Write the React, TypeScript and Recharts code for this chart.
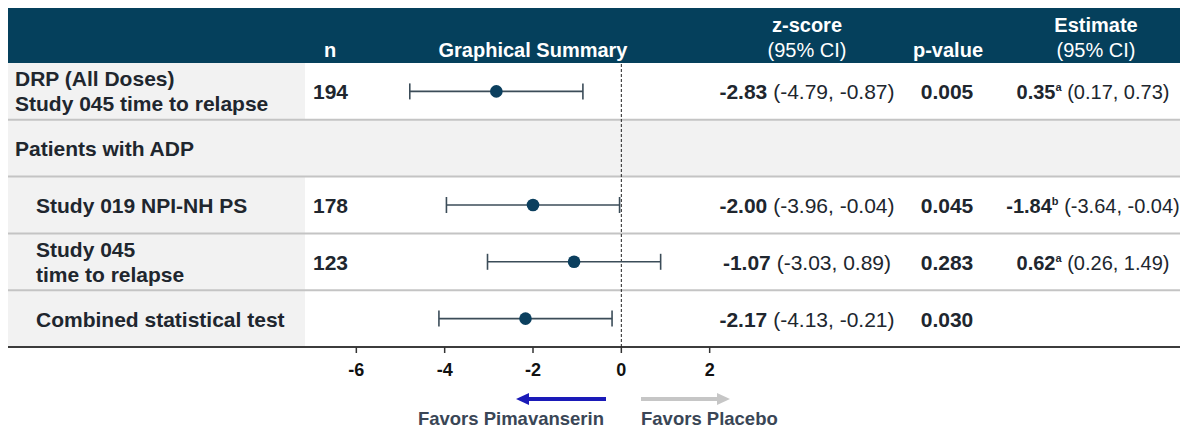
import { ComposedChart, ErrorBar, ReferenceLine, Scatter, XAxis, YAxis } from 'recharts';

// table rows, top to bottom
const rowLabels: string[][] = [
  ['DRP (All Doses)', 'Study 045 time to relapse'],
  ['Patients with ADP'],
  ['Study 019 NPI-NH PS'],
  ['Study 045', 'time to relapse'],
  ['Combined statistical test'],
];
const indented = [false, false, true, true, true];
const sectionRow = [false, true, false, false, false];
const nValues = [194, null, 178, 123, null];

// z-score with 95% CI
const zScores = [-2.83, null, -2.0, -1.07, -2.17];
const zLow = [-4.79, null, -3.96, -3.03, -4.13];
const zHigh = [-0.87, null, -0.04, 0.89, -0.21];
const pValues = [0.005, null, 0.045, 0.283, 0.03];

// estimate with 95% CI (a / b footnote markers)
const estimates = [0.35, null, -1.84, 0.62, null];
const estNotes = ['a', null, 'b', 'a', null];
const estLow = [0.17, null, -3.64, 0.26, null];
const estHigh = [0.73, null, -0.04, 1.49, null];

const xTicks = [-6, -4, -2, 0, 2];
const xDomain = [-8, 4];

const FONT = '"Liberation Sans", Arial, sans-serif';
const W = 1180;
const H = 422;
const TOP = 55;
const ROW_H = 56.8;
const BOTTOM = TOP + ROW_H * rowLabels.length;
const LEFT_COL = 297;
const HEADER_RIGHT = 1175;
const PLOT_LEFT = 260;
const PLOT_RIGHT = 390;
const HEADER_BG = '#05405c';
const TEXT = '#20262e';

const rowMid = (i: number) => TOP + ROW_H * (i + 0.5);
const fmt = (v: number) => v.toFixed(2);

const points = zScores.flatMap((z, i) =>
  z === null ? [] : [{ row: i + 0.5, z, ci: [z - (zLow[i] as number), (zHigh[i] as number) - z] }]
);

const TableBackdrop = () => (
  <g>
    <rect x={0} y={0} width={HEADER_RIGHT} height={TOP} fill={HEADER_BG} />
    <rect x={0} y={TOP} width={LEFT_COL} height={BOTTOM - TOP} fill="#f2f2f2" />
    {sectionRow.map((s, i) =>
      s ? <rect key={i} x={0} y={TOP + ROW_H * i} width={W} height={ROW_H} fill="#f2f2f2" /> : null
    )}
    {rowLabels.slice(1).map((_, k) => (
      <line key={k} x1={0} x2={W} y1={TOP + ROW_H * (k + 1)} y2={TOP + ROW_H * (k + 1)} stroke="#c4c4c4" strokeWidth={2} />
    ))}
    <line x1={0} x2={W} y1={BOTTOM} y2={BOTTOM} stroke="#3c3c3c" strokeWidth={2} />
  </g>
);

const HeaderText = () => (
  <g fontFamily={FONT} fontSize={20} fill="#ffffff" fontWeight="bold" textAnchor="middle">
    <text x={322} y={49}>n</text>
    <text x={525} y={49}>Graphical Summary</text>
    <text x={799} y={24}>z-score</text>
    <text x={799} y={49} fontWeight="normal">(95% CI)</text>
    <text x={940} y={49}>p-value</text>
    <text x={1088} y={24}>Estimate</text>
    <text x={1088} y={49} fontWeight="normal">(95% CI)</text>
  </g>
);

const RowText = () => (
  <g fontFamily={FONT} fontSize={21} fill={TEXT} fontWeight="bold">
    {rowLabels.map((lines, i) => {
      const x = indented[i] ? 28 : 7;
      const mid = rowMid(i);
      return lines.length === 1 ? (
        <text key={`l${i}`} x={x} y={mid + 8}>{lines[0]}</text>
      ) : (
        <g key={`l${i}`}>
          <text x={x} y={mid - 5}>{lines[0]}</text>
          <text x={x} y={mid + 20}>{lines[1]}</text>
        </g>
      );
    })}
    {nValues.map((n, i) =>
      n === null ? null : <text key={`n${i}`} x={305} y={rowMid(i) + 8}>{n}</text>
    )}
    {zScores.map((z, i) =>
      z === null ? null : (
        <text key={`z${i}`} x={799} y={rowMid(i) + 8} textAnchor="middle">
          {fmt(z)}
          <tspan fontWeight="normal">{` (${fmt(zLow[i] as number)}, ${fmt(zHigh[i] as number)})`}</tspan>
        </text>
      )
    )}
    {pValues.map((p, i) =>
      p === null ? null : (
        <text key={`p${i}`} x={939} y={rowMid(i) + 8} textAnchor="middle">{p.toFixed(3)}</text>
      )
    )}
    {estimates.map((e, i) =>
      e === null ? null : (
        <text key={`e${i}`} x={1085} y={rowMid(i) + 8} textAnchor="middle" fontSize={20}>
          {fmt(e)}
          <tspan fontSize={11} dy={-8}>{estNotes[i]}</tspan>
          <tspan dy={8} fontWeight="normal">{` (${fmt(estLow[i] as number)}, ${fmt(estHigh[i] as number)})`}</tspan>
        </text>
      )
    )}
  </g>
);

// "favors" arrows under the axis
const FavorArrows = () => (
  <g fontFamily={FONT} fontSize={18.5} fontWeight="bold" fill="#3a4656">
    <line x1={598} x2={518} y1={391} y2={391} stroke="#1a1ab8" strokeWidth={4} />
    <path d="M508 391 L521 385 L521 397 Z" fill="#1a1ab8" />
    <line x1={633} x2={710} y1={391} y2={391} stroke="#c6c6c6" strokeWidth={4} />
    <path d="M722 391 L709 385 L709 397 Z" fill="#c6c6c6" />
    <text x={596} y={417} textAnchor="end">Favors Pimavanserin</text>
    <text x={633} y={417}>Favors Placebo</text>
  </g>
);

const Dot = (props: any) => <circle cx={props.cx} cy={props.cy} r={6.3} fill="#0b3f5e" />;

export default function App() {
  return (
    <div style={{ width: W, height: H }}>
      <ComposedChart
        width={W}
        height={H}
        margin={{ top: TOP, right: PLOT_RIGHT, left: PLOT_LEFT, bottom: H - BOTTOM - 30 }}
      >
        <TableBackdrop />
        <HeaderText />
        <RowText />
        <FavorArrows />
        <XAxis
          type="number"
          dataKey="z"
          domain={xDomain}
          ticks={xTicks}
          allowDataOverflow
          height={30}
          axisLine={false}
          tickLine={{ stroke: '#333', strokeWidth: 1.5 }}
          tickSize={6}
          tickMargin={10}
          tick={{ fill: '#111', fontSize: 18, fontWeight: 'bold', fontFamily: FONT }}
        />
        <YAxis type="number" dataKey="row" domain={[0, rowLabels.length]} reversed hide />
        <ReferenceLine x={0} stroke="#222" strokeDasharray="3 2" strokeWidth={1} />
        <Scatter data={points} dataKey="z" shape={<Dot />} isAnimationActive={false}>
          <ErrorBar dataKey="ci" direction="x" width={8} stroke="#3b4c58" strokeWidth={1.6} isAnimationActive={false} />
        </Scatter>
      </ComposedChart>
    </div>
  );
}
